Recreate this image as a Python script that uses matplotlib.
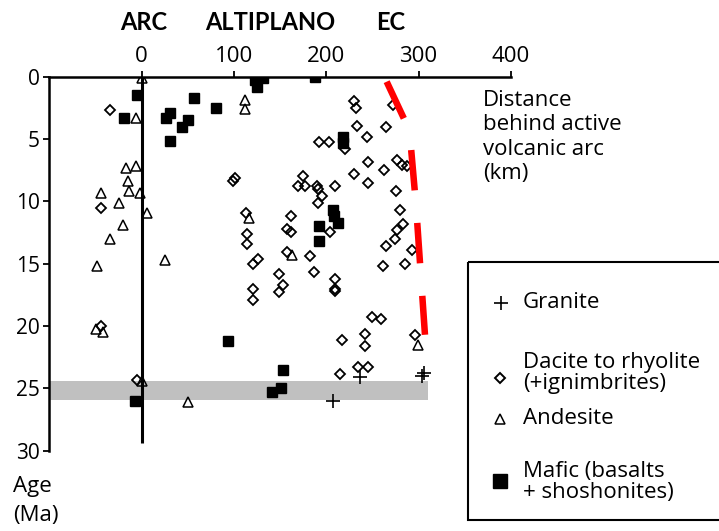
import numpy as np
import matplotlib
matplotlib.use("Agg")
import matplotlib.pyplot as plt
from matplotlib.patches import Rectangle
from matplotlib.lines import Line2D

plt.rcParams['font.family'] = ['Open Sans', 'DejaVu Sans']

# distance behind arc (km), age (Ma)
granite_x = [207, 236.5, 304, 306]
granite_y = [26.0, 24.1, 24.0, 23.75]

dacite_x = [-34, -44, -44.4, -5,
            101, 99.3, 113, 113.7, 113.7,
            125.5, 121, 121, 121,
            157, 161.4, 157.1, 161.7, 149, 153.4, 149,
            175, 169.7, 176.5, 189.6, 191.3, 195, 191.3,
            182.3, 186.8, 192.4, 202.5, 204.5,
            209.4, 209.4, 209.4, 209.4, 216.7, 215,
            230.4, 231.8, 233.6, 220.3, 230.4, 243.8, 245, 244.8,
            264.7, 272, 262.5, 277, 281.7, 287.5,
            275.5, 279.8, 282.8, 277, 274.4, 264.7, 292.5, 285.3, 261.5,
            249.2, 258.9, 242, 242, 296, 234.7, 245]
dacite_y = [2.7, 10.55, 20.0, 24.3,
            8.1, 8.4, 10.95, 12.6, 13.4,
            14.6, 15.05, 17.05, 17.9,
            14.05, 11.2, 12.25, 12.45, 15.85, 16.7, 17.3,
            8.0, 8.8, 8.8, 8.8, 9.0, 9.6, 10.1,
            14.4, 15.7, 5.2, 5.2, 12.45,
            8.8, 16.2, 17.0, 17.15, 21.1, 23.85,
            1.95, 2.5, 3.95, 5.8, 7.8, 4.8, 6.85, 8.5,
            4.06, 2.27, 7.5, 6.7, 7.1, 7.15,
            9.2, 10.7, 11.85, 12.3, 13.05, 13.6, 13.9, 15.0, 15.2,
            19.25, 19.4, 20.6, 21.6, 20.7, 23.3, 23.3]

andesite_x = [0, -6.5, 112, 112,
              -17.3, -6.5, -14.5, -13.4, -44, -1.8, -24.3, 5.4, -20, -34.3,
              25.2, -48, -49.5, -42.3, 0, 50.5,
              116.6, 163, 299.7]
andesite_y = [0.1, 3.3, 1.9, 2.6,
              7.35, 7.2, 8.4, 9.2, 9.3, 9.35, 10.15, 10.9, 11.9, 13.0,
              14.7, 15.2, 20.25, 20.5, 24.4, 26.1,
              11.3, 14.3, 21.55]

mafic_x = [-5.4, -19, 57, 80.5, 30.7, 26.3, 50.5, 43.3, 30.7,
           123, 131, 124.5, 188, 218.4, 218.4,
           207.3, 208.5, 212.5, 192.4, 192.4,
           93.8, 153.4, 150.5, 140.8, -7.3]
mafic_y = [1.5, 3.3, 1.7, 2.5, 2.9, 3.3, 3.5, 4.05, 5.15,
           0.3, 0.1, 0.8, 0.05, 4.8, 5.3,
           10.7, 11.2, 11.75, 12.0, 13.2,
           21.2, 23.55, 24.95, 25.3, 26.0]

# eastern limit of magmatism (dashed red)
front_x = [265.4, 285.3, 291.8, 297.2, 306.9]
front_y = [0.4, 3.55, 5.72, 10.3, 20.7]

# grey time band and arc reference line
band_lo, band_hi, band_right = 24.4, 25.9, 310
arc_line_bottom = 29.4

region_names = ['ARC', 'ALTIPLANO', 'EC']
region_px = [144, 270, 391]

W, H = 719, 531
fig = plt.figure(figsize=(W / 100, H / 100), dpi=100)
x0_px, x100 = 141.7, 92.3
y0_px, y30_px = 76.7, 450.7
left = (x0_px - x100) / W
right = (x0_px + 4 * x100) / W
ax = fig.add_axes([left, 1 - y30_px / H, right - left, (y30_px - y0_px) / H])
ax.set_xlim(-100, 400)
ax.set_ylim(30, 0)

ax.fill_between([-100, band_right], band_lo, band_hi, color='#c0c0c0', lw=0, zorder=1)
ax.plot([0, 0], [0, arc_line_bottom], color='black', lw=2.2, zorder=2, solid_capstyle='butt')

ax.plot(granite_x, granite_y, '+', color='black', ms=9.5, mew=1.2, zorder=3)
ax.plot(dacite_x, dacite_y, 'D', mfc='none', mec='black', ms=4.8, mew=1.3, zorder=3)
ax.plot(andesite_x, andesite_y, '^', mfc='none', mec='black', ms=7, mew=1.1, zorder=3)
ax.plot(mafic_x, mafic_y, 's', color='black', ms=7.6, zorder=4)

front, = ax.plot(front_x, front_y, color='#ff0000', lw=4.7, zorder=5,
                 solid_capstyle='butt', dash_capstyle='butt')
front.set_dashes((6.2, 5.0))

for s in ['right', 'bottom']:
    ax.spines[s].set_visible(False)
for s in ['top', 'left']:
    ax.spines[s].set_linewidth(1.8)
ax.xaxis.tick_top()
ax.set_xticks([0, 100, 200, 300, 400])
ax.set_yticks([0, 5, 10, 15, 20, 25, 30])
ax.tick_params(axis='x', direction='out', length=4, width=1.3, labelsize=16, pad=3)
ax.tick_params(axis='y', direction='out', length=4, width=1.3, labelsize=15, pad=3)
ax.patch.set_visible(False)

# overlay in pixel units for labels and the key
ov = fig.add_axes([0, 0, 1, 1])
ov.set_xlim(0, W)
ov.set_ylim(H, 0)
ov.axis('off')

for name, px in zip(region_names, region_px):
    ov.text(px, 22, name, ha='center', va='center', fontsize=17,
            fontweight='bold', family=['Lato', 'DejaVu Sans'])

ov.text(483, 137, 'Distance\nbehind active\nvolcanic arc\n(km)', ha='left', va='center',
        fontsize=16, linespacing=1.2)
ov.text(13, 501, 'Age\n(Ma)', ha='left', va='center', fontsize=16, linespacing=1.45)

ov.add_patch(Rectangle((467.5, 262), 300, 258, fill=False, ec='black', lw=1.5))
ov.plot(501, 303, '+', color='black', ms=9.5, mew=1.2)
ov.plot(500, 378, 'D', mfc='none', mec='black', ms=5.2, mew=1.4)
ov.plot(500, 419, '^', mfc='none', mec='black', ms=7.5, mew=1.1)
ov.plot(500, 481, 's', color='black', ms=9.5)
ov.text(523, 303, 'Granite', ha='left', va='center', fontsize=16)
ov.text(523, 373, 'Dacite to rhyolite\n(+ignimbrites)', ha='left', va='center',
        fontsize=16, linespacing=1.05)
ov.text(523, 419, 'Andesite', ha='left', va='center', fontsize=16)
ov.text(523, 482, 'Mafic (basalts\n+ shoshonites)', ha='left', va='center',
        fontsize=16, linespacing=1.05)

fig.savefig('out.png', dpi=100)
